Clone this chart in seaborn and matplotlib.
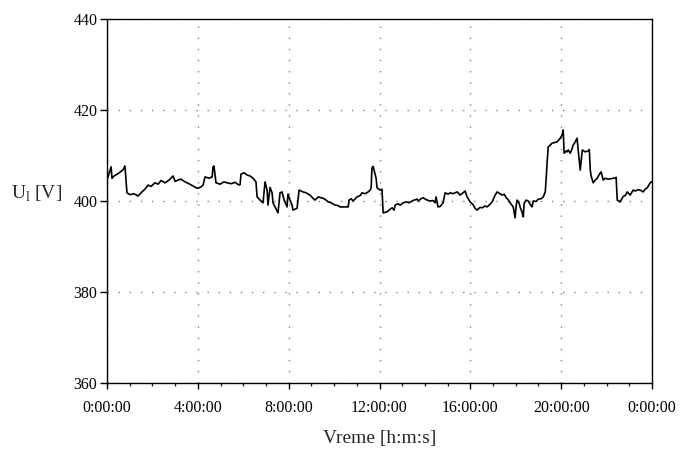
import matplotlib
matplotlib.use("Agg")
import matplotlib.pyplot as plt
from matplotlib.ticker import MultipleLocator, FuncFormatter
import pandas as pd
import seaborn as sns

# Line voltage over one day: time of day in hours and measured U_l in volts
hours = [
    0.00, 0.09, 0.18, 0.22, 0.31, 0.48, 0.70, 0.79, 0.88, 1.01, 1.19, 1.37,
    1.54, 1.67, 1.81, 1.94, 2.11, 2.25, 2.38, 2.56, 2.73, 2.91, 3.00, 3.13,
    3.26, 3.44, 3.61, 3.79, 3.92, 4.01, 4.14, 4.23, 4.32, 4.49, 4.63, 4.67,
    4.71, 4.80, 4.98, 5.15, 5.29, 5.46, 5.64, 5.81, 5.86, 5.90, 6.04, 6.17,
    6.30, 6.43, 6.56, 6.61, 6.74, 6.87, 6.96, 7.05, 7.09, 7.18, 7.27, 7.31,
    7.44, 7.53, 7.62, 7.71, 7.80, 7.93, 7.97, 8.06, 8.15, 8.19, 8.37, 8.46,
    8.63, 8.77, 8.94, 9.07, 9.16, 9.30, 9.43, 9.52, 9.65, 9.74, 9.87, 10.04,
    10.18, 10.26, 10.44, 10.62, 10.66, 10.75, 10.84, 11.01, 11.15, 11.23,
    11.37, 11.50, 11.59, 11.63, 11.67, 11.72, 11.76, 11.85, 11.89, 12.03,
    12.11, 12.16, 12.33, 12.47, 12.56, 12.64, 12.69, 12.82, 12.91, 13.04,
    13.17, 13.30, 13.44, 13.52, 13.66, 13.70, 13.83, 13.92, 14.10, 14.23,
    14.36, 14.45, 14.49, 14.58, 14.67, 14.80, 14.89, 15.02, 15.11, 15.24,
    15.42, 15.55, 15.68, 15.77, 15.86, 15.99, 16.12, 16.21, 16.30, 16.43,
    16.52, 16.65, 16.74, 16.87, 16.96, 17.09, 17.18, 17.31, 17.40, 17.49,
    17.58, 17.67, 17.75, 17.89, 17.97, 18.02, 18.06, 18.15, 18.19, 18.28,
    18.33, 18.37, 18.46, 18.55, 18.63, 18.72, 18.77, 18.90, 18.99, 19.12,
    19.21, 19.30, 19.34, 19.38, 19.43, 19.52, 19.60, 19.74, 19.82, 19.91,
    19.96, 20.04, 20.09, 20.13, 20.22, 20.26, 20.31, 20.40, 20.48, 20.53,
    20.62, 20.70, 20.75, 20.84, 20.93, 21.06, 21.19, 21.24, 21.28, 21.32,
    21.41, 21.50, 21.59, 21.67, 21.76, 21.85, 21.94, 22.07, 22.20, 22.38,
    22.42, 22.47, 22.60, 22.73, 22.82, 22.91, 23.04, 23.17, 23.26, 23.39,
    23.52, 23.61, 23.70, 23.79, 23.92, 24.00,
]
voltage = [
    404.6, 406.0, 407.5, 405.0, 405.5, 406.0, 406.8, 407.7, 401.8, 401.4, 401.6, 401.1,
    402.0, 402.6, 403.5, 403.2, 404.0, 403.7, 404.5, 404.0, 404.6, 405.5, 404.3, 404.6,
    404.8, 404.2, 403.8, 403.3, 402.9, 402.8, 403.1, 403.5, 405.3, 405.0, 405.3, 407.5,
    407.7, 404.0, 403.7, 404.2, 404.0, 403.8, 404.1, 403.5, 403.6, 405.9, 406.2, 405.7,
    405.5, 405.0, 404.2, 400.9, 400.2, 399.6, 404.2, 402.4, 399.1, 403.0, 401.8, 399.6,
    398.3, 397.4, 401.8, 402.0, 400.2, 398.7, 401.5, 400.2, 399.1, 398.0, 398.4, 402.4,
    402.0, 401.8, 401.3, 400.6, 400.2, 400.9, 400.7, 400.6, 400.2, 399.8, 399.6, 399.1,
    399.0, 398.7, 398.7, 398.7, 400.2, 400.5, 400.0, 400.9, 401.2, 401.8,
    401.6, 402.0, 402.4, 402.9, 407.3, 407.6, 406.8, 405.0, 402.9, 402.4,
    402.6, 397.4, 397.6, 398.2, 398.5, 398.0, 399.1, 399.4, 399.1, 399.6,
    399.8, 399.6, 400.0, 400.2, 400.4, 400.0, 400.5, 400.7, 400.2, 400.0,
    400.1, 399.6, 400.9, 398.7, 398.8, 399.6, 401.8, 401.5, 401.8, 401.6,
    402.0, 401.3, 401.8, 402.2, 400.9, 399.8, 399.2, 398.4, 398.0, 398.6,
    398.5, 398.9, 398.7, 399.3, 399.8, 401.3, 402.0, 401.6, 401.3, 401.5,
    400.7, 400.3, 399.6, 398.7, 396.3, 399.0, 400.2, 399.5, 398.7, 397.5,
    396.5, 399.5, 400.2, 400.0, 399.3, 398.7, 400.0, 399.9, 400.4, 400.5,
    400.9, 402.0, 405.0, 408.4, 411.9, 412.3, 412.7, 412.9, 413.0, 413.5,
    413.8, 414.5, 415.6, 410.5, 411.0, 410.8, 411.2, 410.5, 411.5, 412.3,
    413.0, 413.8, 411.2, 406.8, 411.2, 410.8, 411.0, 411.3, 406.8, 405.5,
    404.0, 404.6, 405.0, 405.8, 406.4, 404.6, 405.0, 404.8, 404.9, 405.1,
    405.2, 400.2, 399.8, 401.0, 401.2, 402.0, 401.3, 402.4, 402.2, 402.5,
    402.3, 402.0, 402.6, 402.9, 404.0, 404.3,
]

x_ticks = [0, 4, 8, 12, 16, 20, 24]
y_ticks = [360, 380, 400, 420, 440]

df = pd.DataFrame({"Vreme": hours, "U": voltage})

sns.set_style("white")
plt.rcParams["font.family"] = ["Liberation Serif", "DejaVu Serif"]
plt.rcParams["mathtext.fontset"] = "custom"
plt.rcParams["mathtext.rm"] = "Liberation Serif"

fig = plt.figure(figsize=(6.81, 4.51), dpi=100)
ax = fig.add_axes([107 / 681, 1 - 383 / 451, 545 / 681, 364 / 451])

sns.lineplot(data=df, x="Vreme", y="U", ax=ax, color="black", linewidth=1.2,
             estimator=None, sort=False)

ax.set_xlim(0, 24)
ax.set_ylim(360, 440)
ax.set_xticks(x_ticks)
ax.xaxis.set_minor_locator(MultipleLocator(1))
ax.set_yticks(y_ticks)


def clock(h, _pos):
    return f"{int(round(h)) % 24}:00:00"


ax.xaxis.set_major_formatter(FuncFormatter(clock))

ax.grid(True, which="major", color="#7f7f7f", linestyle=(0, (1, 7)), linewidth=1.0)

for side in ax.spines.values():
    side.set_visible(True)
    side.set_color("black")
    side.set_linewidth(1.0)

ax.tick_params(axis="x", which="major", direction="out", length=4.5, width=1,
               pad=8, labelsize=11.5, colors="black", bottom=True)
ax.tick_params(axis="x", which="minor", direction="out", length=2.5, width=1,
               bottom=True)
ax.tick_params(axis="y", which="major", direction="out", length=5, width=1,
               pad=2, labelsize=11.5, colors="black", left=True)

ax.set_xlabel("Vreme [h:m:s]", fontsize=14, labelpad=10)
ax.set_ylabel(r"U$_{\mathregular{l}}$ [V]", fontsize=14, rotation=0,
              ha="right", va="center")
ax.yaxis.set_label_coords(-0.083, 0.52)

fig.savefig("out.png", dpi=100)
